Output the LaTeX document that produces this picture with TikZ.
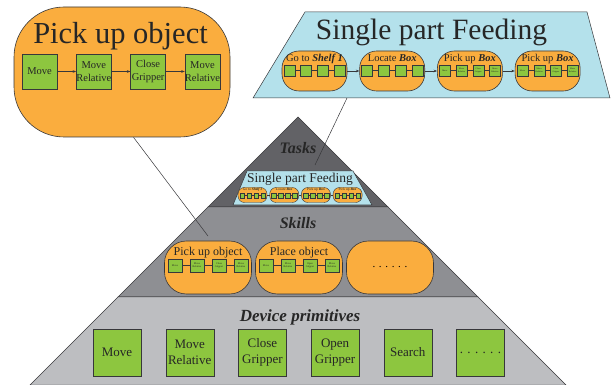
\documentclass[tikz,border=0pt]{standalone}
\usepackage{fontspec}
\setmainfont{Liberation Serif}
\usetikzlibrary{positioning,arrows.meta}
\definecolor{skillorange}{RGB}{250,173,62}
\definecolor{primgreen}{RGB}{141,198,63}
\definecolor{taskblue}{RGB}{180,225,235}
\definecolor{taskgray}{RGB}{98,98,102}
\definecolor{skillgray}{RGB}{142,143,147}
\definecolor{primgray}{RGB}{189,190,193}
\definecolor{edgegray}{RGB}{55,55,58}
\begin{document}
\begin{tikzpicture}[x=1pt,y=-1pt,
	prim/.style={draw=edgegray,fill=primgreen,inner sep=0pt,align=center,text=black!85},
	skill/.style={draw=edgegray,fill=skillorange,inner sep=0pt,line width=0.6pt},
	layer/.style={draw=edgegray,line width=0.5pt},
	link/.style={draw=edgegray,line width=0.5pt},
	arrow/.style={link,-{Stealth[length=3.5pt,width=2.6pt]}},
	title/.style={text=black!85,inner sep=0pt,anchor=base}]
	\useasboundingbox (0,0) rectangle (614,385);
	% pyramid
	\draw[layer,fill=taskgray] (298,117) -- (388,207) -- (208,207) -- cycle;
	\draw[layer,fill=skillgray] (208,207) -- (388,207) -- (478,297) -- (118,297) -- cycle;
	\draw[layer,fill=primgray] (118,297) -- (478,297) -- (566,385) -- (30,385) -- cycle;
	\node[title,font=\bfseries\itshape\fontsize{16}{18}\selectfont] (tasks) at (298,154) {Tasks};
	\node[title,font=\bfseries\itshape\fontsize{16}{18}\selectfont] (skills) at (298,229) {Skills};
	\node[title,font=\bfseries\itshape\fontsize{17}{19}\selectfont] (device) at (300,322) {Device primitives};
	% device primitives
	\foreach \i/\txt in {1/Move,2/{Move\\Relative},3/{Close\\Gripper},4/{Open\\Gripper},5/Search,6/{. . . . . .}}
		\node[prim,minimum width=48pt,minimum height=47pt,font=\fontsize{13}{15.5}\selectfont] (dp\i) at ({117+72.7*(\i-1)},352.5) {\txt};
	% skills
	\node[skill,minimum width=87pt,minimum height=53pt,rounded corners=22pt] (pickup) at (208,267.5) {};
	\node[skill,minimum width=87pt,minimum height=53pt,rounded corners=22pt] (place) at (299,267.5) {};
	\node[skill,minimum width=87pt,minimum height=53pt,rounded corners=22pt,font=\fontsize{11}{13}\selectfont] (more) at (390,267.5) {. . . . . .};
	\node[title,font=\fontsize{12}{13}\selectfont] (pickuplbl) at (208,255) {Pick up object};
	\node[title,font=\fontsize{12}{13}\selectfont] (placelbl) at (299,255) {Place object};
	\foreach \j/\txt in {1/Move,2/{Move\\Relative},3/{Close\\Gripper},4/{Move\\Relative}}
		\node[prim,minimum width=14pt,minimum height=12.5pt,font=\fontsize{2.6}{3}\selectfont] (pickup\j) at ({208+22*(\j-2.5)},265.5) {\txt};
	\foreach \j/\txt in {1/Move,2/{Move\\Relative},3/{Open\\Gripper},4/{Move\\Relative}}
		\node[prim,minimum width=14pt,minimum height=12.5pt,font=\fontsize{2.6}{3}\selectfont] (place\j) at ({299+22*(\j-2.5)},265.5) {\txt};
	\foreach \j [count=\k from 2] in {1,2,3} {
		\draw[link] (pickup\j) -- (pickup\k);
		\draw[link] (place\j) -- (place\k);
	}
	% tasks
	\draw[link,fill=taskblue] (247,171) -- (353,171) -- (372,205) -- (233,205) -- cycle;
	\node[title,font=\fontsize{13.5}{15}\selectfont] (feedlbl) at (300,183) {Single part Feeding};
	\foreach \s/\lbl in {1/{Go to \textbf{\textit{Shelf 1}}},2/{Locate \textbf{\textit{Box}}},3/{Pick up \textbf{\textit{Box}}},4/{Pick up \textbf{\textit{Box}}}} {
		\node[skill,line width=0.4pt,minimum width=29pt,minimum height=15pt,rounded corners=6.5pt] (tf\s) at ({252.5+31.7*(\s-1)},195) {};
		\node[title,font=\fontsize{3.6}{4}\selectfont] (tf\s lbl) at ({252.5+31.7*(\s-1)},191) {\lbl};
		\foreach \j in {1,...,4}
			\node[prim,line width=0.3pt,minimum size=4.5pt] (tf\s-\j) at ({252.5+31.7*(\s-1)+7*(\j-2.5)},195.5) {};
		\foreach \j [count=\k from 2] in {1,2,3}
			\draw[link,line width=0.4pt] (tf\s-\j) -- (tf\s-\k);
	}
	\foreach \s [count=\t from 2] in {1,2,3}
		\draw[link,line width=0.4pt] (tf\s) -- (tf\t);
	% connectors
	\coordinate (feedfoot) at (347,98);
	\coordinate (feedtip) at (315,165);
	\coordinate (picktip) at (208,236);
	\draw[link] (feedfoot) -- (feedtip);
	% single part feeding
	\draw[link,fill=taskblue] (305,12) -- (587,12) -- (610,98) -- (253,98) -- cycle;
	\node[title,font=\fontsize{29.5}{31}\selectfont] (feedtitle) at (431.5,39.5) {Single part Feeding};
	\foreach \s/\lbl in {1/{Go to \textbf{\textit{Shelf 1}}},2/{Locate \textbf{\textit{Box}}},3/{Pick up \textbf{\textit{Box}}},4/{Pick up \textbf{\textit{Box}}}} {
		\node[skill,minimum width=65pt,minimum height=40pt,rounded corners=17pt] (sf\s) at ({314.5+77.7*(\s-1)},71) {};
		\node[title,font=\fontsize{10.5}{12}\selectfont] (sf\s lbl) at ({314.5+77.7*(\s-1)},62) {\lbl};
		\foreach \j/\txt in {1/Move,2/{Move\\Relative},3/{Close\\Gripper},4/{Move\\Relative}}
			\node[prim,minimum size=11pt,font=\fontsize{2.2}{2.6}\selectfont] (sf\s-\j) at ({314.5+77.7*(\s-1)+16.7*(\j-2.5)},70.5) {\ifnum\s>2 \txt\fi};
		\foreach \j [count=\k from 2] in {1,2,3}
			\draw[link] (sf\s-\j) -- (sf\s-\k);
	}
	\foreach \s [count=\t from 2] in {1,2,3}
		\draw[arrow] (sf\s) -- (sf\t);
	% pick up object
	\node[skill,minimum width=216pt,minimum height=130pt,rounded corners=50pt] (bigpick) at (122,72) {};
	\node[title,font=\fontsize{30.5}{32}\selectfont] (bigpicklbl) at (120.5,44) {Pick up object};
	\foreach \j/\txt in {1/Move,2/{Move\\Relative},3/{Close\\Gripper},4/{Move\\Relative}}
		\node[prim,minimum size=35pt,font=\fontsize{10.5}{12.5}\selectfont] (bp\j) at ({121+54.3*(\j-2.5)},71.5) {\txt};
	\foreach \j [count=\k from 2] in {1,2,3}
		\draw[arrow] (bp\j) -- (bp\k);
	\draw[link] (bigpick.-80) -- (picktip);
\end{tikzpicture}
\end{document}
